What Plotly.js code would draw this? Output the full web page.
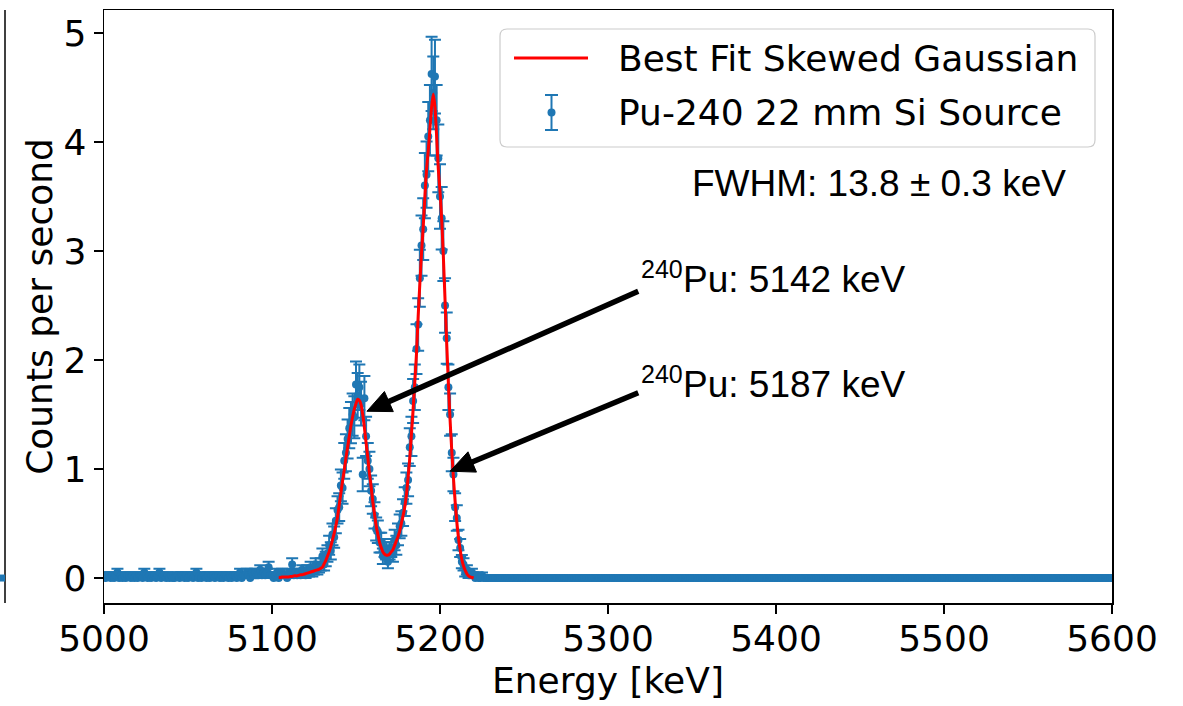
<!DOCTYPE html>
<html><head><meta charset="utf-8">
<script src="https://cdn.plot.ly/plotly-3.0.1.min.js"></script>
<style>html,body{margin:0;padding:0;background:#fff;}#chart{width:1183px;height:706px;}</style>
</head><body><div id="chart"></div>
<script>
// ---- data (1 keV bins, counts per second) ----
const binStartKeV = 5000;
const binWidthKeV = 1;
const rateLow = [ // 5000-5099 keV
 0.025,0,0.025,0.025,0,0.025,0,0.025,0.05,0,
 0.025,0,0.025,0,0.025,0.025,0,0.025,0,0.025,
 0,0.025,0.025,0,0.05,0.025,0,0.025,0,0.025,
 0.025,0,0.025,0.05,0,0.025,0.025,0,0.025,0,
 0.025,0,0,0.025,0.025,0,0.025,0.025,0,0.025,
 0,0.025,0.025,0,0.025,0.05,0,0.025,0,0.025,
 0.025,0,0.025,0,0.025,0.025,0,0.025,0.025,0,
 0.025,0,0.025,0.025,0,0.025,0,0.025,0.025,0,
 0.025,0.05,0,0.025,0.025,0.05,0.025,0,0.05,0.025,
 0.05,0.025,0.025,0.075,0.025,0.05,0.025,0.05,0.1,0.025];
const errLow = [
 0.025,0,0.025,0.025,0,0.025,0,0.025,0.035,0,
 0.025,0,0.025,0,0.025,0.025,0,0.025,0,0.025,
 0,0.025,0.025,0,0.035,0.025,0,0.025,0,0.025,
 0.025,0,0.025,0.035,0,0.025,0.025,0,0.025,0,
 0.025,0,0,0.025,0.025,0,0.025,0.025,0,0.025,
 0,0.025,0.025,0,0.025,0.035,0,0.025,0,0.025,
 0.025,0,0.025,0,0.025,0.025,0,0.025,0.025,0,
 0.025,0,0.025,0.025,0,0.025,0,0.025,0.025,0,
 0.025,0.035,0,0.025,0.025,0.035,0.025,0,0.035,0.025,
 0.035,0.025,0.025,0.043,0.025,0.035,0.025,0.035,0.05,0.025];
const ratePeak = [ // 5100-5229 keV
 0.025,0,0.025,0.05,0,0.025,0.05,0.025,0.025,0,
 0.05,0.025,0.125,0.025,0.05,0.025,0.05,0.025,0.075,0.05,
 0.025,0.075,0.05,0.1,0.05,0.075,0.125,0.075,0.1,0.125,
 0.2,0.125,0.175,0.225,0.3,0.25,0.4,0.375,0.525,0.625,
 0.65,0.85,0.825,1.075,1.15,1.275,1.375,1.425,1.5,1.475,
 1.775,1.675,1.75,1.6,0.95,1.65,1.3,1.075,1.0,0.8,
 0.725,0.575,0.45,0.425,0.325,0.325,0.2,0.275,0.25,0.15,
 0.25,0.275,0.225,0.35,0.3,0.4,0.475,0.5,0.6,0.7,
 0.825,0.9,1.2,1.3,1.625,1.75,2.1,2.325,2.75,3.05,
 3.2,3.6,3.7,4.05,4.2,4.625,4.45,4.6,4.2,3.85,
 3.5,3.3,3.0,2.5,2.2,1.75,1.5,1.15,0.95,0.65,
 0.55,0.35,0.275,0.15,0.125,0.05,0.075,0.025,0.025,0.05,
 0.025,0,0.025,0,0,0.025,0,0,0,0];
const errPeak = [
 0.025,0,0.025,0.035,0,0.025,0.035,0.025,0.025,0,
 0.035,0.025,0.056,0.025,0.035,0.025,0.035,0.025,0.043,0.035,
 0.025,0.043,0.035,0.05,0.035,0.043,0.056,0.043,0.05,0.056,
 0.071,0.056,0.066,0.075,0.087,0.079,0.1,0.097,0.115,0.125,
 0.127,0.146,0.144,0.164,0.17,0.179,0.185,0.189,0.194,0.192,
 0.211,0.205,0.209,0.2,0.154,0.203,0.18,0.164,0.158,0.141,
 0.135,0.12,0.106,0.103,0.09,0.09,0.071,0.083,0.079,0.061,
 0.079,0.083,0.075,0.094,0.087,0.1,0.109,0.112,0.122,0.132,
 0.144,0.15,0.173,0.18,0.202,0.209,0.229,0.241,0.262,0.276,
 0.283,0.3,0.304,0.318,0.324,0.34,0.334,0.339,0.324,0.31,
 0.296,0.287,0.274,0.25,0.235,0.209,0.194,0.17,0.154,0.127,
 0.117,0.094,0.083,0.061,0.056,0.035,0.043,0.025,0.025,0.035,
 0.025,0,0.025,0,0,0.025,0,0,0,0];
const rateTail = [ // 5230-5600 keV
 0,0,0,0,0,0,0,0,0,0, 0,0,0,0,0,0,0,0,0,0, 0,0,0,0,0,0,0,0,0,0, 0,0,0,0,0,0,0,0,0,0,
 0,0,0,0,0,0,0,0,0,0, 0,0,0,0,0,0,0,0,0,0, 0,0,0,0,0,0,0,0,0,0, 0,0,0,0,0,0,0,0,0,0,
 0,0,0,0,0,0,0,0,0,0, 0,0,0,0,0,0,0,0,0,0, 0,0,0,0,0,0,0,0,0,0, 0,0,0,0,0,0,0,0,0,0,
 0,0,0,0,0,0,0,0,0,0, 0,0,0,0,0,0,0,0,0,0, 0,0,0,0,0,0,0,0,0,0, 0,0,0,0,0,0,0,0,0,0,
 0,0,0,0,0,0,0,0,0,0, 0,0,0,0,0,0,0,0,0,0, 0,0,0,0,0,0,0,0,0,0, 0,0,0,0,0,0,0,0,0,0,
 0,0,0,0,0,0,0,0,0,0, 0,0,0,0,0,0,0,0,0,0, 0,0,0,0,0,0,0,0,0,0, 0,0,0,0,0,0,0,0,0,0,
 0,0,0,0,0,0,0,0,0,0, 0,0,0,0,0,0,0,0,0,0, 0,0,0,0,0,0,0,0,0,0, 0,0,0,0,0,0,0,0,0,0,
 0,0,0,0,0,0,0,0,0,0, 0,0,0,0,0,0,0,0,0,0, 0,0,0,0,0,0,0,0,0,0, 0,0,0,0,0,0,0,0,0,0,
 0,0,0,0,0,0,0,0,0,0, 0,0,0,0,0,0,0,0,0,0, 0,0,0,0,0,0,0,0,0,0, 0,0,0,0,0,0,0,0,0,0,
 0,0,0,0,0,0,0,0,0,0, 0];
const errTail = [
 0,0,0,0,0,0,0,0,0,0, 0,0,0,0,0,0,0,0,0,0, 0,0,0,0,0,0,0,0,0,0, 0,0,0,0,0,0,0,0,0,0,
 0,0,0,0,0,0,0,0,0,0, 0,0,0,0,0,0,0,0,0,0, 0,0,0,0,0,0,0,0,0,0, 0,0,0,0,0,0,0,0,0,0,
 0,0,0,0,0,0,0,0,0,0, 0,0,0,0,0,0,0,0,0,0, 0,0,0,0,0,0,0,0,0,0, 0,0,0,0,0,0,0,0,0,0,
 0,0,0,0,0,0,0,0,0,0, 0,0,0,0,0,0,0,0,0,0, 0,0,0,0,0,0,0,0,0,0, 0,0,0,0,0,0,0,0,0,0,
 0,0,0,0,0,0,0,0,0,0, 0,0,0,0,0,0,0,0,0,0, 0,0,0,0,0,0,0,0,0,0, 0,0,0,0,0,0,0,0,0,0,
 0,0,0,0,0,0,0,0,0,0, 0,0,0,0,0,0,0,0,0,0, 0,0,0,0,0,0,0,0,0,0, 0,0,0,0,0,0,0,0,0,0,
 0,0,0,0,0,0,0,0,0,0, 0,0,0,0,0,0,0,0,0,0, 0,0,0,0,0,0,0,0,0,0, 0,0,0,0,0,0,0,0,0,0,
 0,0,0,0,0,0,0,0,0,0, 0,0,0,0,0,0,0,0,0,0, 0,0,0,0,0,0,0,0,0,0, 0,0,0,0,0,0,0,0,0,0,
 0,0,0,0,0,0,0,0,0,0, 0,0,0,0,0,0,0,0,0,0, 0,0,0,0,0,0,0,0,0,0, 0,0,0,0,0,0,0,0,0,0,
 0,0,0,0,0,0,0,0,0,0, 0];
// skewed-Gaussian best fit, 1 keV steps from 5104 keV
const fitStartKeV = 5104;
const fitRate = [
 0.005,0.005,0.01,0.01,0.01,0.01,
 0.01,0.015,0.015,0.02,0.02,0.02,0.025,0.03,0.03,0.035,
 0.04,0.045,0.05,0.055,0.06,0.065,0.07,0.075,0.08,0.09,
 0.10,0.13,0.16,0.20,0.24,0.29,0.35,0.41,0.48,0.56,
 0.67,0.78,0.89,0.99,1.10,1.20,1.30,1.40,1.48,1.55,
 1.60,1.64,1.63,1.59,1.50,1.38,1.24,1.11,0.96,0.84,
 0.70,0.59,0.48,0.40,0.33,0.28,0.24,0.22,0.21,0.21,
 0.22,0.24,0.26,0.30,0.34,0.38,0.43,0.50,0.57,0.65,
 0.76,0.92,1.10,1.32,1.55,1.80,2.06,2.40,2.70,2.98,
 3.22,3.50,3.75,3.92,4.12,4.32,4.44,4.32,4.05,3.75,
 3.55,3.29,2.95,2.55,2.15,1.78,1.45,1.17,0.92,0.70,
 0.52,0.37,0.26,0.17,0.11,0.07,0.04,0.02,0.01,0.005,
 0];
const seriesNames = ['Best Fit Skewed Gaussian', 'Pu-240 22 mm Si Source'];
const xTickValues = [5000, 5100, 5200, 5300, 5400, 5500, 5600];
const yTickValues = [0, 1, 2, 3, 4, 5];
const xRange = [5000, 5600];
const yRange = [-0.229, 5.211];
const xTitle = 'Energy [keV]';
const yTitle = 'Counts per second';
const fwhmText = 'FWHM: 13.8 ± 0.3 keV';
const isotopeMass = '240';
const lineLabels = ['Pu: 5142 keV', 'Pu: 5187 keV'];
// arrow tips / tails in data units [keV, cps]
const arrowTips = [[5156.5, 1.53], [5206.0, 0.98]];
const arrowTails = [[5318, 2.63], [5318, 1.70]];

// ---- assemble ----
const rate = rateLow.concat(ratePeak, rateTail);
const rateErr = errLow.concat(errPeak, errTail);
const energy = rate.map((_, i) => binStartKeV + i * binWidthKeV);
const fitEnergy = fitRate.map((_, i) => fitStartKeV + i);

const BLUE = '#1f77b4';
const DJ = 'DejaVu Sans, Verdana, sans-serif';
const AR = 'Liberation Sans, Arial, sans-serif';

// layout geometry in pixels
const W = 1183, H = 706;
const M = {l: 104, r: 71, t: 10, b: 103};
const PW = W - M.l - M.r, PH = H - M.t - M.b;
const px = x => (x - M.l) / PW;
const py = y => (H - M.b - y) / PH;
// data -> paper fractions (for the annotation arrows)
const dX = v => (v - xRange[0]) / (xRange[1] - xRange[0]);
const dY = v => (v - yRange[0]) / (yRange[1] - yRange[0]);

const dataTrace = {
  x: energy, y: rate, type: 'scatter', mode: 'markers', name: seriesNames[1],
  marker: {color: BLUE, size: 8},
  error_y: {type: 'data', array: rateErr, visible: true, color: BLUE, thickness: 2, width: 6},
  showlegend: false, hoverinfo: 'skip'
};
const fitTrace = {
  x: fitEnergy, y: fitRate, type: 'scatter', mode: 'lines', name: seriesNames[0],
  line: {color: '#ff0000', width: 3, shape: 'spline', smoothing: 0.6},
  showlegend: false, hoverinfo: 'skip'
};

// custom matplotlib-like legend box (rounded)
function roundRect(x0, y0, x1, y1, r) {
  const rx = r / PW, ry = r / PH;
  const X0 = px(x0), X1 = px(x1), Y0 = py(y0), Y1 = py(y1);
  return `M${X0+rx},${Y0} L${X1-rx},${Y0} Q${X1},${Y0} ${X1},${Y0-ry} L${X1},${Y1+ry} Q${X1},${Y1} ${X1-rx},${Y1} L${X0+rx},${Y1} Q${X0},${Y1} ${X0},${Y1+ry} L${X0},${Y0-ry} Q${X0},${Y0} ${X0+rx},${Y0} Z`;
}
const shapes = [
  {type: 'path', xref: 'paper', yref: 'paper', path: roundRect(500, 29, 1095, 147, 7),
   line: {color: '#cccccc', width: 1.2}, fillcolor: 'rgba(255,255,255,0.8)'},
  {type: 'line', xref: 'paper', yref: 'paper', x0: px(514), x1: px(588), y0: py(58), y1: py(58),
   line: {color: '#ff0000', width: 3}},
  {type: 'line', xref: 'paper', yref: 'paper', x0: px(551.5), x1: px(551.5), y0: py(95), y1: py(130),
   line: {color: BLUE, width: 2}},
  {type: 'line', xref: 'paper', yref: 'paper', x0: px(545), x1: px(558), y0: py(95), y1: py(95),
   line: {color: BLUE, width: 2}},
  {type: 'line', xref: 'paper', yref: 'paper', x0: px(545), x1: px(558), y0: py(130), y1: py(130),
   line: {color: BLUE, width: 2}},
  {type: 'circle', xref: 'paper', yref: 'paper', x0: px(547.5), x1: px(555.5), y0: py(108.5), y1: py(116.5),
   line: {color: BLUE, width: 0}, fillcolor: BLUE},
  // edge of the neighbouring panel on the left
  {type: 'line', xref: 'paper', yref: 'paper', x0: px(5), x1: px(5), y0: py(10), y1: py(603),
   line: {color: '#000', width: 1.5}},
  {type: 'line', xref: 'paper', yref: 'y', x0: px(0), x1: px(5), y0: 0, y1: 0,
   line: {color: BLUE, width: 7}}
];

// black arrows (line + filled head) from label to peak
const HEAD_LEN = 24, HEAD_HALF = 11, SHAFT = 5.5;
arrowTips.forEach((tip, i) => {
  const tx = dX(tip[0]) * PW, ty = dY(tip[1]) * PH;
  const sx = dX(arrowTails[i][0]) * PW, sy = dY(arrowTails[i][1]) * PH;
  const L = Math.hypot(tx - sx, ty - sy);
  const ux = (tx - sx) / L, uy = (ty - sy) / L;
  const bx = tx - ux * HEAD_LEN, by = ty - uy * HEAD_LEN;
  const nx = -uy, ny = ux;
  shapes.push({type: 'line', xref: 'paper', yref: 'paper',
    x0: sx / PW, y0: sy / PH, x1: (bx + ux * 2) / PW, y1: (by + uy * 2) / PH,
    line: {color: '#000', width: SHAFT}});
  const p1 = [(bx + nx * HEAD_HALF) / PW, (by + ny * HEAD_HALF) / PH];
  const p2 = [(bx - nx * HEAD_HALF) / PW, (by - ny * HEAD_HALF) / PH];
  shapes.push({type: 'path', xref: 'paper', yref: 'paper',
    path: `M${tx / PW},${ty / PH} L${p1[0]},${p1[1]} L${p2[0]},${p2[1]} Z`,
    fillcolor: '#000', line: {color: '#000', width: 1}});
});

const annotations = [
  {xref: 'paper', yref: 'paper', x: px(616), y: py(58), xanchor: 'left', yanchor: 'middle',
   text: seriesNames[0], showarrow: false, font: {family: DJ, size: 36, color: '#000'}},
  {xref: 'paper', yref: 'paper', x: px(616), y: py(112.5), xanchor: 'left', yanchor: 'middle',
   text: seriesNames[1], showarrow: false, font: {family: DJ, size: 36, color: '#000'}},
  {xref: 'paper', yref: 'paper', x: px(690), y: py(184), xanchor: 'left', yanchor: 'middle',
   text: fwhmText, showarrow: false, font: {family: AR, size: 37, color: '#000'}}
];
const labelRows = [278, 383];   // cap-middle pixel rows of the two peak labels
lineLabels.forEach((t, i) => {
  annotations.push({xref: 'paper', yref: 'paper', x: px(639), y: py(labelRows[i] - 9),
    xanchor: 'left', yanchor: 'middle', text: isotopeMass, showarrow: false,
    font: {family: AR, size: 25, color: '#000'}});
  annotations.push({xref: 'paper', yref: 'paper', x: px(681), y: py(labelRows[i] + 1),
    xanchor: 'left', yanchor: 'middle', text: t, showarrow: false,
    font: {family: AR, size: 37, color: '#000'}});
});

const axisCommon = {
  showline: true, linecolor: '#000', linewidth: 1.5, mirror: true,
  ticks: 'outside', ticklen: 9, tickwidth: 1.5, tickcolor: '#000',
  showgrid: false, zeroline: false,
  tickfont: {family: DJ, size: 36, color: '#000'}
};

const layout = {
  width: W, height: H, margin: M,
  paper_bgcolor: '#fff', plot_bgcolor: '#fff',
  xaxis: Object.assign({}, axisCommon, {
    range: xRange, tickmode: 'array', tickvals: xTickValues, ticklabelstandoff: -6,
    title: {text: xTitle, font: {family: DJ, size: 36, color: '#000'}, standoff: 10}
  }),
  yaxis: Object.assign({}, axisCommon, {
    range: yRange, tickmode: 'array', tickvals: yTickValues,
    title: {text: yTitle, font: {family: DJ, size: 36, color: '#000'}, standoff: 0}
  }),
  shapes: shapes,
  annotations: annotations,
  showlegend: false
};

Plotly.newPlot('chart', [dataTrace, fitTrace], layout, {displayModeBar: false, staticPlot: true});
</script></body></html>
